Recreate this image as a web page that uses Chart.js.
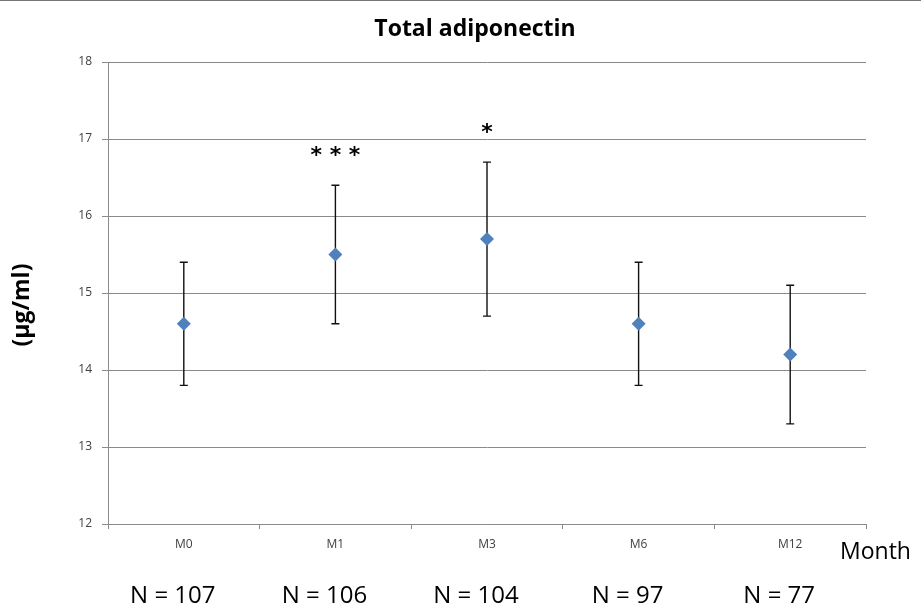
<!DOCTYPE html>
<html>
<head>
<meta charset="utf-8">
<script src="https://cdn.jsdelivr.net/npm/chart.js@4.4.1/dist/chart.umd.min.js"></script>
<style>
  html, body { margin: 0; padding: 0; background: #fff; }
  #wrap { width: 921px; height: 605px; position: relative; border-top: 1px solid #777; box-sizing: border-box; }
</style>
</head>
<body>
<div id="wrap"><canvas id="chart"></canvas></div>
<script>
// datos
const months = ['M0', 'M1', 'M3', 'M6', 'M12'];
const meanValues = [14.6, 15.5, 15.7, 14.6, 14.2];
const upperValues = [15.4, 16.4, 16.7, 15.4, 15.1];
const lowerValues = [13.8, 14.6, 14.7, 13.8, 13.3];
const significance = ['', '***', '*', '', ''];
const sampleSizes = ['N = 107', 'N = 106', 'N = 104', 'N = 97', 'N = 77'];
const yTicks = [12, 13, 14, 15, 16, 17, 18];

// barras de error + textos extra
const extrasPlugin = {
  id: 'extras',
  beforeDatasetsDraw(chart) {
    const { ctx, scales: { x, y } } = chart;
    ctx.save();
    ctx.strokeStyle = '#111';
    ctx.lineWidth = 1.4;
    months.forEach((m, i) => {
      const px = x.getPixelForValue(i);
      const top = y.getPixelForValue(upperValues[i]);
      const bot = y.getPixelForValue(lowerValues[i]);
      ctx.beginPath();
      ctx.moveTo(px, top); ctx.lineTo(px, bot);
      ctx.moveTo(px - 4, top); ctx.lineTo(px + 4, top);
      ctx.moveTo(px - 4, bot); ctx.lineTo(px + 4, bot);
      ctx.stroke();
    });
    ctx.restore();
  },
  afterDraw(chart) {
    const { ctx, scales: { x, y } } = chart;
    ctx.save();
    ctx.fillStyle = '#000';
    ctx.textAlign = 'center';
    ctx.textBaseline = 'middle';

    // asteriscos
    ctx.font = 'bold 22px "DejaVu Sans"';
    significance.forEach((s, i) => {
      if (!s) return;
      const px = x.getPixelForValue(i);
      const py = y.getPixelForValue(upperValues[i]) - 29;
      ctx.fillText(s.split('').join(' '), px, py);
    });

    // título
    ctx.font = 'bold 23px "Open Sans"';
    ctx.fillText('Total adiponectin', 475, 28);

    // título eje y
    ctx.save();
    ctx.translate(22, 304);
    ctx.rotate(-Math.PI / 2);
    ctx.font = 'bold 23px "Open Sans"';
    ctx.fillText('(\u00b5g/ml)', 0, 0);
    ctx.restore();

    // Month
    ctx.textAlign = 'left';
    ctx.font = '23px "Open Sans"';
    ctx.fillText('Month', 840, 551);

    // N =
    ctx.textAlign = 'center';
    ctx.font = '24px "Open Sans"';
    sampleSizes.forEach((n, i) => {
      ctx.fillText(n, x.getPixelForValue(i) - 11, 595);
    });
    ctx.restore();
  }
};

new Chart(document.getElementById('chart'), {
  type: 'line',
  data: {
    labels: months,
    datasets: [{
      data: meanValues,
      showLine: false,
      pointStyle: 'rectRot',
      pointRadius: 7,
      pointHoverRadius: 7,
      backgroundColor: '#4f81bd',
      borderColor: '#4f81bd',
      borderWidth: 0
    }]
  },
  options: {
    responsive: true,
    maintainAspectRatio: false,
    animation: false,
    events: [],
    layout: { padding: { left: 0, right: 55, top: 61, bottom: 51 } },
    plugins: { legend: { display: false }, tooltip: { enabled: false } },
    scales: {
      x: {
        type: 'category',
        offset: true,
        grid: { offset: true, drawOnChartArea: false, drawTicks: true, tickLength: 5, color: '#8a8a8a' },
        border: { color: '#8a8a8a', width: 1 },
        ticks: { color: '#404040', font: { family: 'Open Sans', size: 12 }, padding: 8, maxRotation: 0 },
        afterFit(s) { s.height = 30; }
      },
      y: {
        min: 12,
        max: 18,
        afterBuildTicks(s) { s.ticks = yTicks.map(v => ({ value: v })); },
        grid: { color: '#8a8a8a', lineWidth: 1, tickLength: 6 },
        border: { color: '#8a8a8a', width: 1 },
        ticks: { color: '#404040', font: { family: 'Open Sans', size: 12 }, padding: 10 },
        afterFit(s) { s.width = 108; }
      }
    }
  },
  plugins: [extrasPlugin]
});
</script>
</body>
</html>
